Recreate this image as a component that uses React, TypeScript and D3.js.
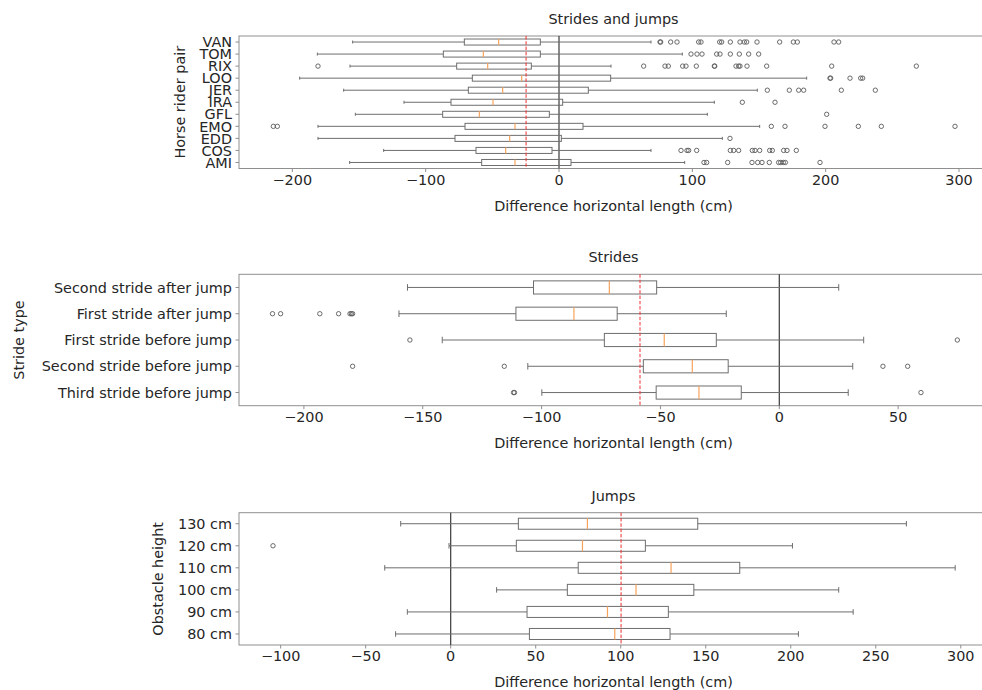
import * as d3 from 'd3';
import { useEffect, useRef } from 'react';

// ---- data ----
const riders = ['VAN', 'TOM', 'RIX', 'LOO', 'JER', 'IRA', 'GFL', 'EMO', 'EDD', 'COS', 'AMI'];
// [whisker low, q1, median, q3, whisker high]
const riderStats = [
  [-154.75, -71, -45.25, -14, 69],
  [-181.25, -86.75, -56.75, -14, 92.5],
  [-156.75, -76.75, -53.5, -20.75, 39],
  [-194.5, -65, -28, 38.75, 185.75],
  [-161.5, -68, -42.25, 22, 148.75],
  [-116.25, -81, -49.5, 2.75, 116.5],
  [-152.75, -87.25, -59.75, -7.25, 111.25],
  [-180.75, -70.5, -33, 18, 150.5],
  [-180.75, -78, -37, 1.75, 122.5],
  [-131.5, -62.25, -40, -5.25, 69],
  [-157, -58, -33, 9, 94.25],
];
const riderOutliers = [
  [75.75, 76.25, 83.75, 88.5, 104.75, 106.5, 120.5, 122, 128.5, 135.75, 139, 140.75, 148.5, 165.5, 175.75, 178.75, 206.25, 209.75],
  [99, 103.5, 107.25, 118.25, 120.75, 128.5, 135.25, 142.25, 149.75],
  [-180.75, 63.5, 79.5, 82, 92.75, 95.25, 103, 116.5, 116.8, 132.75, 134.75, 135.75, 141, 155.75, 204.5, 268],
  [203.25, 203.75, 218.25, 226.25, 227.75],
  [156.25, 172.75, 179.75, 183.5, 211.75, 237.25],
  [137.5, 162],
  [200.75],
  [-214.25, -211.25, 159.25, 169.5, 199.5, 224.5, 241.75, 297],
  [128.25],
  [91.5, 96, 97.25, 103.25, 128.5, 131, 134.75, 145, 147, 150.5, 158, 160, 168.5, 171, 178],
  [108.75, 110.75, 126.5, 144.75, 149, 152.25, 157.75, 164.75, 166.25, 168.25, 169.75, 195.75],
];
const riderMean = -24.7;

const strideTypes = [
  'Second stride after jump',
  'First stride after jump',
  'First stride before jump',
  'Second stride before jump',
  'Third stride before jump',
];
const strideStats = [
  [-156.4, -103.4, -71.5, -51.6, 25],
  [-160, -110.8, -86.4, -68.2, -22.3],
  [-141.8, -73.6, -48.4, -26.5, 35.5],
  [-105.8, -57.2, -36.6, -21.5, 30.9],
  [-99.9, -51.8, -33.8, -16, 29],
];
const strideOutliers = [
  [],
  [-213.2, -209.8, -193.3, -185.4, -180.6, -180.0, -179.5],
  [-155.4, 74.9],
  [-179.5, -115.7, 43.6, 54],
  [-111.8, -111.4, 59.6],
];
const strideMean = -58.6;

const heights = ['130 cm', '120 cm', '110 cm', '100 cm', '90 cm', '80 cm'];
const heightStats = [
  [-29.4, 39.8, 80.4, 145.3, 268],
  [-1, 38.6, 77.5, 114.5, 201],
  [-38.8, 75, 129.6, 170, 296.7],
  [27, 68.6, 109, 143, 228.2],
  [-25.5, 44.9, 92.2, 128, 236.7],
  [-32.4, 46.3, 96.5, 129, 204.5],
];
const heightOutliers = [[], [-104.5], [], [], [], []];
const heightMean = 100.2;

const xTicksTop = [-200, -100, 0, 100, 200, 300];
const xTicksMid = [-200, -150, -100, -50, 0, 50];
const xTicksBottom = [-100, -50, 0, 50, 100, 150, 200, 250, 300];

export default function App() {
  const ref = useRef<SVGSVGElement | null>(null);

  useEffect(() => {
    if (!ref.current) return;
    const width = 982;
    const height = 690;
    const svg = d3.select(ref.current).attr('viewBox', `0 0 ${width} ${height}`);
    svg.selectAll('*').remove();

    const font = 'DejaVu Sans, sans-serif';
    const fs = 14.4;
    const textColor = '#262626';
    const boxColor = '#6e6e6e';
    const spine = '#8f8f8f';

    const panels = [
      {
        title: 'Strides and jumps', ylabel: 'Horse rider pair', ylabelX: 180,
        cats: riders, stats: riderStats, outliers: riderOutliers, mean: riderMean,
        domain: [-240, 321.75], ticks: xTicksTop, top: 36, bottom: 168.5,
      },
      {
        title: 'Strides', ylabel: 'Stride type', ylabelX: 19,
        cats: strideTypes, stats: strideStats, outliers: strideOutliers, mean: strideMean,
        domain: [-227.3, 87.8], ticks: xTicksMid, top: 274.3, bottom: 405.7,
      },
      {
        title: 'Jumps', ylabel: 'Obstacle height', ylabelX: 158,
        cats: heights, stats: heightStats, outliers: heightOutliers, mean: heightMean,
        domain: [-124.5, 316], ticks: xTicksBottom, top: 512.7, bottom: 645,
      },
    ];

    const left = 239;
    const right = 988;

    panels.forEach((p) => {
      const g = svg.append('g');
      const x = d3.scaleLinear().domain(p.domain).range([left, right]);
      const y = d3.scaleBand().domain(p.cats).range([p.top, p.bottom]);
      const bw = y.bandwidth();
      const cy = (c: string) => (y(c) as number) + bw / 2;

      /* ---- frame ---- */
      g.append('rect')
        .attr('x', left).attr('y', p.top)
        .attr('width', right - left).attr('height', p.bottom - p.top)
        .attr('fill', 'none').attr('stroke', spine).attr('stroke-width', 1);

      /* ---- zero line ---- */
      g.append('line')
        .attr('x1', x(0)).attr('x2', x(0))
        .attr('y1', p.top).attr('y2', p.bottom)
        .attr('stroke', '#3a3a3a').attr('stroke-width', 1.2);

      /* ---- boxes ---- */
      const rows = p.cats.map((c, i) => ({ c, s: p.stats[i], o: p.outliers[i] }));
      const row = g.selectAll('g.row').data(rows).enter().append('g').attr('class', 'row');

      row.append('line')
        .attr('x1', (d) => x(d.s[0])).attr('x2', (d) => x(d.s[1]))
        .attr('y1', (d) => cy(d.c)).attr('y2', (d) => cy(d.c))
        .attr('stroke', boxColor).attr('stroke-width', 1);
      row.append('line')
        .attr('x1', (d) => x(d.s[3])).attr('x2', (d) => x(d.s[4]))
        .attr('y1', (d) => cy(d.c)).attr('y2', (d) => cy(d.c))
        .attr('stroke', boxColor).attr('stroke-width', 1);
      [0, 4].forEach((k) => {
        row.append('line')
          .attr('x1', (d) => x(d.s[k])).attr('x2', (d) => x(d.s[k]))
          .attr('y1', (d) => cy(d.c) - bw / 8).attr('y2', (d) => cy(d.c) + bw / 8)
          .attr('stroke', boxColor).attr('stroke-width', 1);
      });
      row.append('rect')
        .attr('x', (d) => x(d.s[1])).attr('width', (d) => x(d.s[3]) - x(d.s[1]))
        .attr('y', (d) => cy(d.c) - bw / 4).attr('height', bw / 2)
        .attr('fill', 'none').attr('stroke', boxColor).attr('stroke-width', 1);
      row.append('line')
        .attr('x1', (d) => x(d.s[2])).attr('x2', (d) => x(d.s[2]))
        .attr('y1', (d) => cy(d.c) - bw / 4).attr('y2', (d) => cy(d.c) + bw / 4)
        .attr('stroke', '#f7a35c').attr('stroke-width', 1.2);
      row.selectAll('circle')
        .data((d) => d.o.map((v) => ({ v, c: d.c })))
        .enter().append('circle')
        .attr('cx', (d) => x(d.v)).attr('cy', (d) => cy(d.c))
        .attr('r', 2.2)
        .attr('fill', 'none').attr('stroke', '#5a5a5a').attr('stroke-width', 0.9);

      /* ---- mean line ---- */
      g.append('line')
        .attr('x1', x(p.mean)).attr('x2', x(p.mean))
        .attr('y1', p.top).attr('y2', p.bottom)
        .attr('stroke', '#f03030').attr('stroke-width', 1)
        .attr('stroke-dasharray', '3.5,1.8');

      /* ---- x axis ---- */
      const xt = g.selectAll('g.xt').data(p.ticks).enter().append('g').attr('class', 'xt');
      xt.append('line')
        .attr('x1', (d) => x(d)).attr('x2', (d) => x(d))
        .attr('y1', p.bottom).attr('y2', p.bottom + 3.5)
        .attr('stroke', spine);
      xt.append('text')
        .attr('x', (d) => x(d)).attr('y', p.bottom + 16)
        .attr('text-anchor', 'middle')
        .attr('font-family', font).attr('font-size', fs).attr('fill', textColor)
        .text((d) => d3.format('d')(d));
      g.append('text')
        .attr('x', (left + right) / 2).attr('y', p.bottom + 42)
        .attr('text-anchor', 'middle')
        .attr('font-family', font).attr('font-size', fs).attr('fill', textColor)
        .text('Difference horizontal length (cm)');

      /* ---- y axis ---- */
      const yt = g.selectAll('g.yt').data(p.cats).enter().append('g').attr('class', 'yt');
      yt.append('line')
        .attr('x1', left - 3.5).attr('x2', left)
        .attr('y1', (d) => cy(d)).attr('y2', (d) => cy(d))
        .attr('stroke', spine);
      yt.append('text')
        .attr('x', left - 7).attr('y', (d) => cy(d))
        .attr('dy', '0.36em')
        .attr('text-anchor', 'end')
        .attr('font-family', font).attr('font-size', fs).attr('fill', textColor)
        .text((d) => d);
      g.append('text')
        .attr('transform', `translate(${p.ylabelX},${(p.top + p.bottom) / 2}) rotate(-90)`)
        .attr('dy', '0.36em')
        .attr('text-anchor', 'middle')
        .attr('font-family', font).attr('font-size', fs).attr('fill', textColor)
        .text(p.ylabel);

      /* ---- title ---- */
      g.append('text')
        .attr('x', (left + right) / 2).attr('y', p.top - 12)
        .attr('text-anchor', 'middle')
        .attr('font-family', font).attr('font-size', fs).attr('fill', textColor)
        .text(p.title);
    });
  }, []);

  return (
    <svg
      ref={ref}
      width={982}
      height={690}
      style={{ position: 'absolute', left: 0, top: 0, background: '#fff' }}
    />
  );
}
